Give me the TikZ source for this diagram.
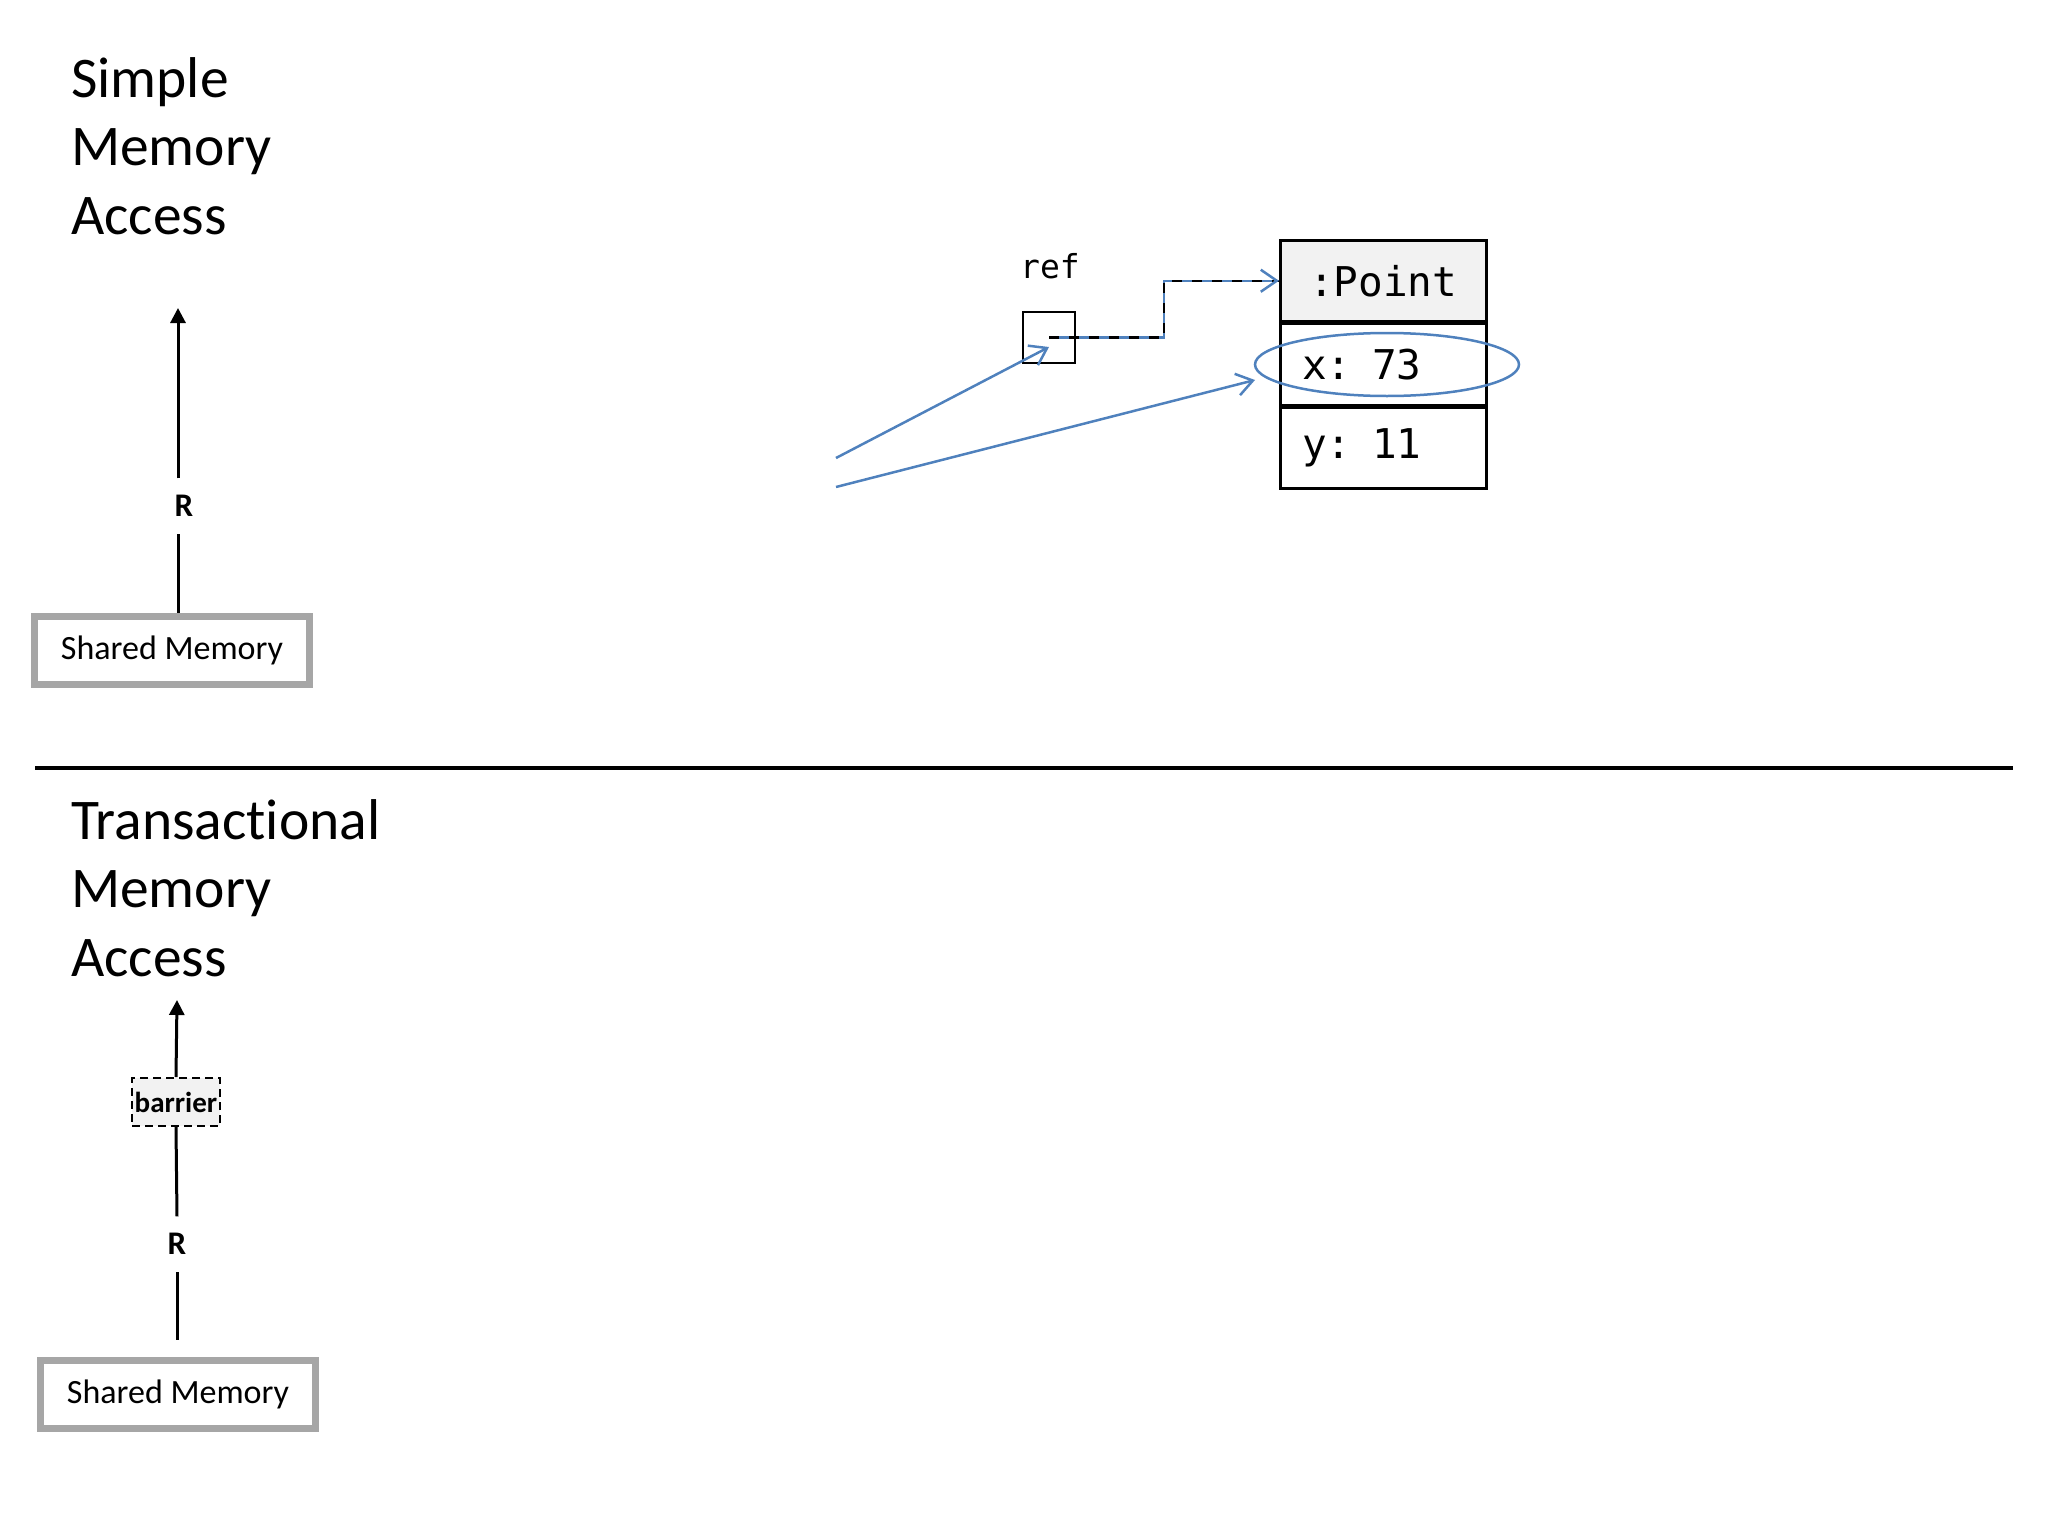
\documentclass[tikz,border=0pt]{standalone}
\usepackage{fontspec}
\setmainfont[Ligatures=NoCommon]{Carlito}
\newfontfamily\codefont{DejaVu Sans Mono}
\usetikzlibrary{arrows.meta,shapes.geometric}
\definecolor{refblue}{RGB}{79,129,189}
\definecolor{boxgray}{RGB}{166,166,166}
\definecolor{lightfill}{RGB}{242,242,242}
\tikzset{
  title/.style={anchor=north west,inner sep=0pt,align=left,font=\fontsize{57.5}{68.5}\selectfont},
  membox/.style={draw=boxgray,line width=7pt,minimum width=275pt,minimum height=68pt,inner sep=0pt,font=\fontsize{34}{40}\selectfont},
  rlabel/.style={inner sep=0pt,minimum height=55pt,font=\bfseries\fontsize{33}{36}\selectfont},
  barrierbox/.style={draw,line width=2pt,dash pattern=on 8pt off 5pt,fill=lightfill,minimum width=88pt,minimum height=48pt,inner sep=0pt,font=\bfseries\fontsize{29}{32}\selectfont},
  flow/.style={line width=3pt},
  flowarrow/.style={line width=3pt,-{Triangle[length=15pt,width=15pt]}},
  cell/.style={draw,line width=2.5pt,minimum width=206pt,minimum height=81pt,inner sep=0pt,anchor=north west,font=\codefont\fontsize{41}{44}\selectfont},
  bluearrow/.style={refblue,line width=2.5pt,-{Straight Barb[length=16pt,width=22pt,line width=2.5pt]}},
}
\begin{document}
\begin{tikzpicture}[x=1pt,y=-1pt]
\useasboundingbox (0,0) rectangle (2048,1536);
% titles
\node[title] (t1) at (71,57) {Simple\\Memory\\Access};
\node[title] (t2) at (71,799) {Transactional\\Memory\\Access};
% divider
\coordinate (dl) at (35,768);
\coordinate (dr) at (2013,768);
\draw[line width=3.5pt] (dl) -- (dr);
% top: simple access
\node[membox] (sm1) at (172,650) {Shared Memory};
\node[rlabel] (r1) at (184,506) {R};
\coordinate (top1) at (178,308);
\coordinate (mid1) at (178,506);
\draw[flow] (sm1.north -| top1) -- (mid1 |- r1.south);
\draw[flowarrow] (mid1 |- r1.north) -- (top1);
% bottom: transactional access
\node[membox] (sm2) at (178,1394) {Shared Memory};
\node[rlabel] (r2) at (177,1244) {R};
\node[barrierbox] (bar) at (176,1102) {barrier};
\coordinate (top2) at (177,1000);
\draw[flow,shorten <=17pt] (sm2.north -| r2) -- (r2.south);
\draw[flow] (r2.north) -- (bar.south);
\draw[flowarrow] (bar.north) -- (top2);
% object
\node[cell,fill=lightfill] (pt) at (1279,239) {:Point};
\node[cell,inner xsep=22pt,text width=162pt,align=left] (px) at (pt.south west) {x: 73};
\node[cell,inner xsep=22pt,text width=162pt,align=left] (py) at (px.south west) {y: 11};
\node[draw,line width=2.5pt,minimum width=52pt,minimum height=51pt,inner sep=0pt] (ref) at (1049,337.5) {};
\node[inner sep=0pt,font=\codefont\fontsize{33}{36}\selectfont] (reflbl) at (1050,266) {ref};
\node[draw=refblue,line width=2.5pt,ellipse,minimum width=264pt,minimum height=63pt,inner sep=0pt] (ell) at (1387,364.5) {};
% dashed reference
\draw[line width=2.5pt,dash pattern=on 10pt off 10pt] (ref.center) -- ++(115,0) |- (pt.west);
\draw[refblue,line width=2.5pt,dash pattern=on 10pt off 10pt,dash phase=10pt,-{Straight Barb[length=16pt,width=22pt,line width=2.5pt]}] (ref.center) -- ++(115,0) |- (pt.west);
% incoming blue arrows
\coordinate (s1) at (836,458);
\coordinate (s2) at (836,487);
\coordinate (e1) at (1049,347);
\coordinate (e2) at (1255,380);
\draw[bluearrow] (s1) -- (e1);
\draw[bluearrow] (s2) -- (e2);
\end{tikzpicture}
\end{document}
